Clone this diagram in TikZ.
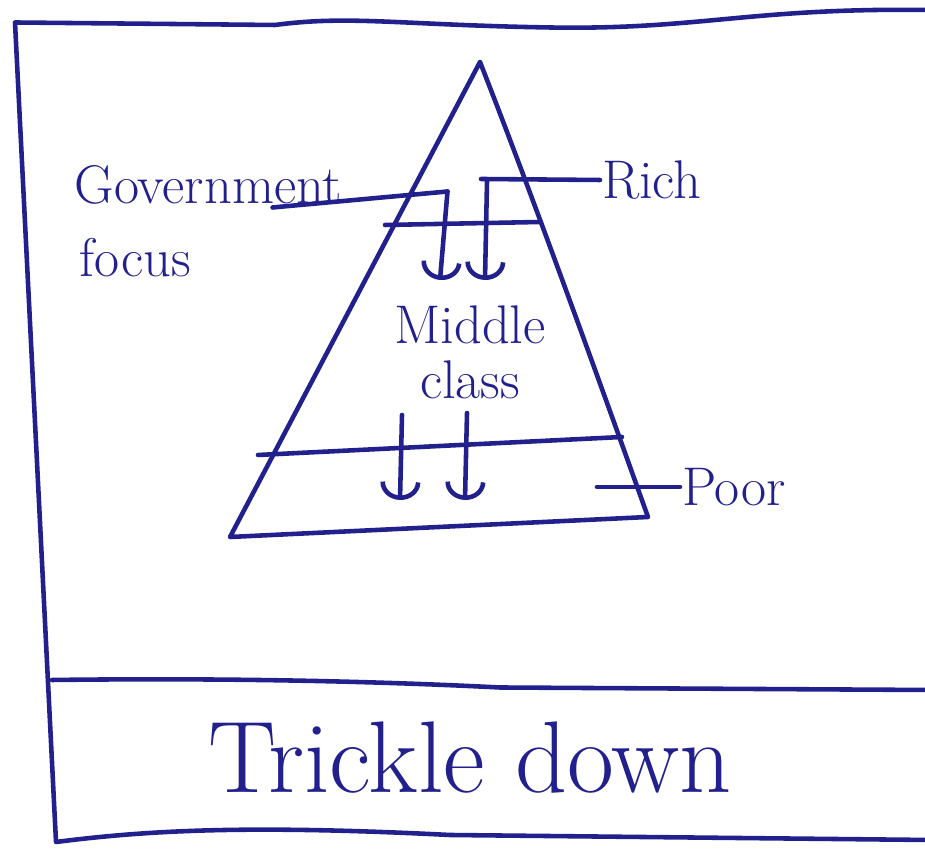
\documentclass[tikz,border=0pt]{standalone}
\usepackage{tikz}
\usetikzlibrary{arrows.meta}
\usepackage{xcolor}
\definecolor{ink}{RGB}{34,32,140}

\begin{document}
\begin{tikzpicture}[line cap=round,line join=round,
  pen/.style={draw=ink,line width=2.6pt},
  drip/.style={pen,-{Arc Barb[length=3.6mm,width=8mm,line width=2.6pt]}},
  hand/.style={text=ink,inner sep=1pt,font=\fontsize{31}{35}\selectfont}]
\useasboundingbox (0,0) rectangle (18.5,17.1);
% frame and divider
\draw[pen] (18.6,16.9) .. controls (15,16.95) and (14,16.5) .. (11,16.55)
  .. controls (8,16.6) and (7,16.8) .. (5.5,16.6) -- (0.3,16.65) -- (1.12,0.26)
  .. controls (3,0.5) and (5,0.6) .. (9,0.4) -- (18.6,0.3);
\draw[pen] (1.04,3.5) .. controls (5,3.55) and (8,3.45) .. (10,3.35) -- (18.6,3.3);
% pyramid
\coordinate (apex) at (9.6,15.86);
\coordinate (baseL) at (4.6,6.36);
\coordinate (baseR) at (12.96,6.76);
\draw[pen] (apex) -- (baseL) -- (baseR) .. controls (12.3,8.6) and (10.8,12.8) .. (apex);
\coordinate (richL) at (7.7,12.6);
\coordinate (richR) at (10.8,12.66);
\draw[pen] (richL) -- (richR);
\coordinate (poorL) at (5.16,8.0);
\coordinate (poorR) at (12.44,8.36);
\draw[pen] (poorL) -- (poorR);
% labels
\node[hand,anchor=west] (govt) at (1.45,13.4) {Government};
\node[hand,anchor=west] (focus) at (1.55,11.95) {focus};
\node[hand,anchor=west] (rich) at (12.0,13.5) {Rich};
\node[hand,align=center] (middle) at (9.4,10.05) {Middle\\[-4pt]class};
\node[hand,anchor=west] (poor) at (13.6,7.36) {Poor};
\node[hand,font=\fontsize{58}{64}\selectfont] (trickle) at (9.4,1.95) {Trickle down};
% leaders and drips
\coordinate (g0) at (5.45,12.95);
\coordinate (g1) at (8.95,13.27);
\coordinate (g2) at (8.8,11.5);
\draw[pen] (g0) -- (g1);
\draw[drip] (g1) -- (g2);
\coordinate (r0) at (9.62,13.52);
\coordinate (r1) at (9.74,13.48);
\coordinate (r2) at (9.7,11.5);
\draw[pen] (r0) -- (rich.west);
\draw[drip] (r1) -- (r2);
\coordinate (m1) at (8.04,8.8);
\coordinate (m2) at (8.0,7.1);
\coordinate (n1) at (9.34,8.84);
\coordinate (n2) at (9.3,7.1);
\draw[drip] (m1) -- (m2);
\draw[drip] (n1) -- (n2);
\coordinate (p0) at (11.94,7.36);
\draw[pen] (p0) -- (poor.west);
\end{tikzpicture}
\end{document}
